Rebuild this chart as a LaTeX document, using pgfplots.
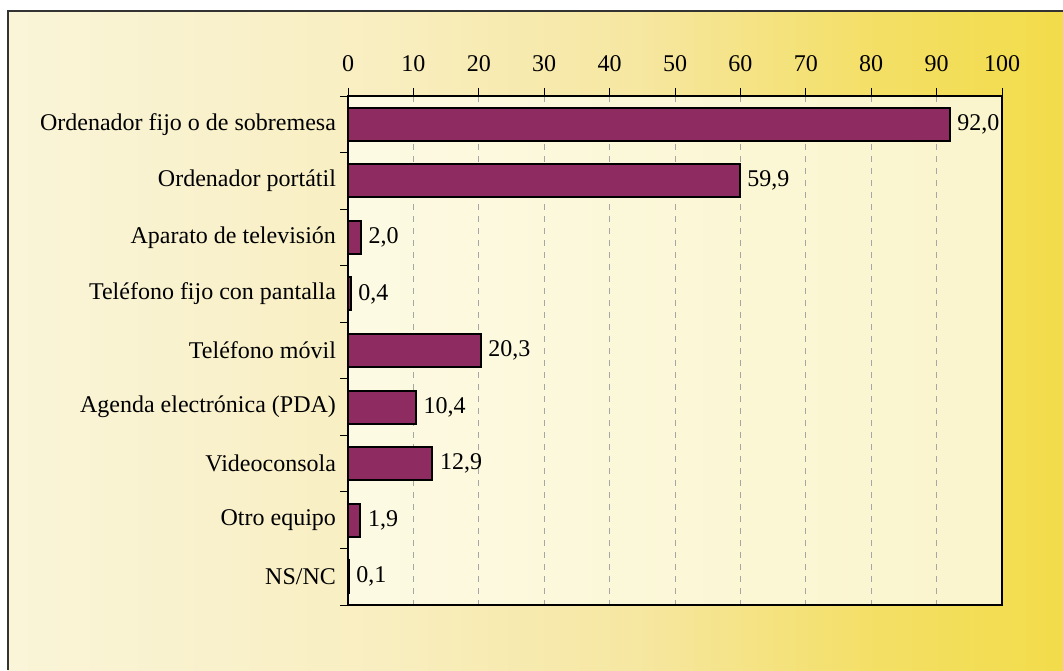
\documentclass[border=0pt]{standalone}
\usepackage{pgfplots}
\pgfplotsset{compat=1.18}
\usepackage{fontspec}
\setmainfont{Liberation Serif}
\definecolor{barc}{HTML}{8E2C62}
\definecolor{framec}{HTML}{333333}
\pgfdeclarehorizontalshading{bgshade}{100bp}{rgb(0bp)=(0.98,0.96,0.85); rgb(25bp)=(0.98,0.96,0.85); rgb(42bp)=(0.975,0.935,0.76); rgb(55bp)=(0.965,0.905,0.63); rgb(66bp)=(0.955,0.875,0.40); rgb(75bp)=(0.953,0.863,0.29); rgb(100bp)=(0.953,0.863,0.29)}
\pgfdeclarehorizontalshading{plotshade}{100bp}{rgb(0bp)=(0.99,0.98,0.89); rgb(25bp)=(0.99,0.98,0.89); rgb(75bp)=(0.98,0.96,0.80); rgb(100bp)=(0.98,0.96,0.80)}
\pgfplotsset{/pgf/number format/.cd, use comma, assume math mode=true}
\begin{document}
\begin{tikzpicture}
\useasboundingbox (0,0) rectangle (531.5pt,335pt);
\fill[white] (0,0) rectangle (531.5pt,335pt);
\shade[shading=bgshade] (4pt,0) rectangle (531.5pt,329.5pt);
\draw[framec, line width=1pt] (4pt,0) -- (4pt,329.5pt) -- (531.5pt,329.5pt);
\begin{axis}[
  xbar,
  scale only axis,
  width=327pt, height=254.5pt,
  at={(174pt,32.5pt)}, anchor=south west,
  xmin=0, xmax=100, ymin=-0.5, ymax=8.5,
  y dir=reverse,
  axis background/.style={shading=plotshade},
  axis line style={line width=1pt},
  tick align=outside,
  major tick length=4pt,
  tick style={black, line width=0.5pt},
  xtick={0,10,...,100},
  xticklabels={0,10,20,30,40,50,60,70,80,90,100},
  xtick pos=right, xticklabel pos=right,
  xticklabel style={font=\fontsize{12}{14}\selectfont, yshift=4.5pt},
  xmajorgrids=true,
  major x grid style={gray!70, dash pattern=on 3pt off 3pt, line width=0.5pt},
  ytick={-0.5,0.5,1.5,2.5,3.5,4.5,5.5,6.5,7.5,8.5},
  yticklabels={},
  ytick pos=left, yticklabel pos=left,
  extra y ticks={0,1,2,3,4,5,6,7,8},
  extra y tick labels={Ordenador fijo o de sobremesa, Ordenador portátil, Aparato de televisión, Teléfono fijo con pantalla, Teléfono móvil, Agenda electrónica (PDA), Videoconsola, Otro equipo, NS/NC},
  extra y tick style={major tick length=0pt, yticklabel style={font=\fontsize{12}{14}\selectfont, xshift=-2.5pt}},
  bar width=16.5pt,
  nodes near coords={\pgfmathprintnumber[fixed,fixed zerofill,precision=1,use comma,assume math mode=true]{\pgfplotspointmeta}},
  nodes near coords align={horizontal},
  every node near coord/.append style={font=\fontsize{12}{14}\selectfont, black},
]
\addplot[fill=barc, draw=black, line width=1pt] coordinates {
(92.0,0) (59.9,1) (2.0,2) (0.4,3) (20.3,4) (10.4,5) (12.9,6) (1.9,7) (0.1,8)
};
\end{axis}
\end{tikzpicture}
\end{document}
